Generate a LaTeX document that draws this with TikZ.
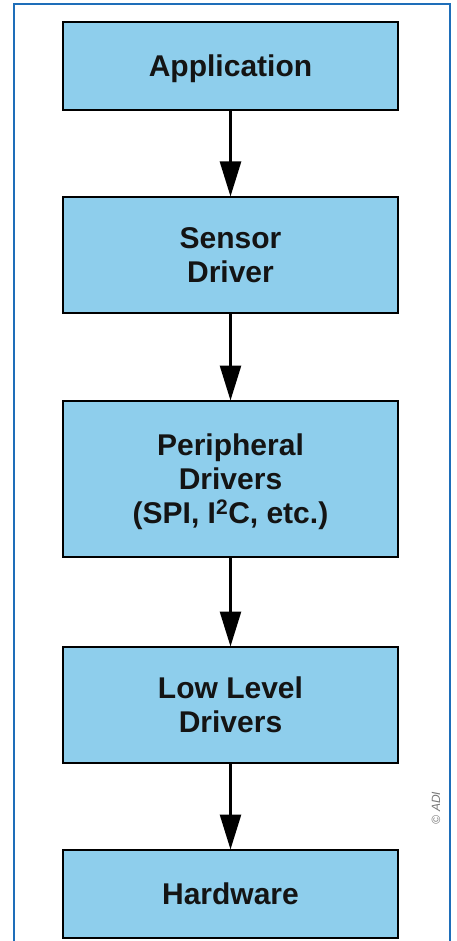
\documentclass[tikz,border=0pt]{standalone}
\usepackage{fontspec}
\setmainfont{Liberation Sans}
\usetikzlibrary{arrows.meta}
\definecolor{boxfill}{RGB}{142,206,236}
\definecolor{frameblue}{RGB}{30,110,185}
\definecolor{credit}{RGB}{120,120,120}
\tikzset{
  layer/.style={draw=black, line width=2.6pt, fill=boxfill, minimum width=335pt,
    align=center, inner sep=0pt, outer sep=0pt, text depth=0pt,
    font=\fontsize{30}{34}\selectfont\bfseries, text=black!92},
  flow/.style={line width=2.6pt, -{Triangle[length=35pt,width=21pt]}, shorten >=0.5pt}
}
\begin{document}
\begin{tikzpicture}[x=1pt,y=-1pt]
\useasboundingbox (0,0) rectangle (457,941);
\fill[white] (0,0) rectangle (457,941);
\draw[frameblue, line width=2pt] (14,941) -- (14,4) -- (450,4) -- (450,941);
\node[layer, minimum height=88pt] (app) at (230.5,66) {Application};
\node[layer, minimum height=116pt] (sens) at (230.5,255) {Sensor\\Driver};
\node[layer, minimum height=156pt] (per) at (230.5,479) {Peripheral\\Drivers\\(SPI, I\textsuperscript{2}C, etc.)};
\node[layer, minimum height=116pt] (low) at (230.5,705) {Low Level\\Drivers};
\node[layer, minimum height=88pt] (hw) at (230.5,894) {Hardware};
\draw[flow] (app) -- (sens);
\draw[flow] (sens) -- (per);
\draw[flow] (per) -- (low);
\draw[flow] (low) -- (hw);
\node[rotate=90, text=credit, font=\fontsize{12}{14}\selectfont\itshape] (adi) at (436,808) {\textcopyright\ ADI};
\end{tikzpicture}
\end{document}
